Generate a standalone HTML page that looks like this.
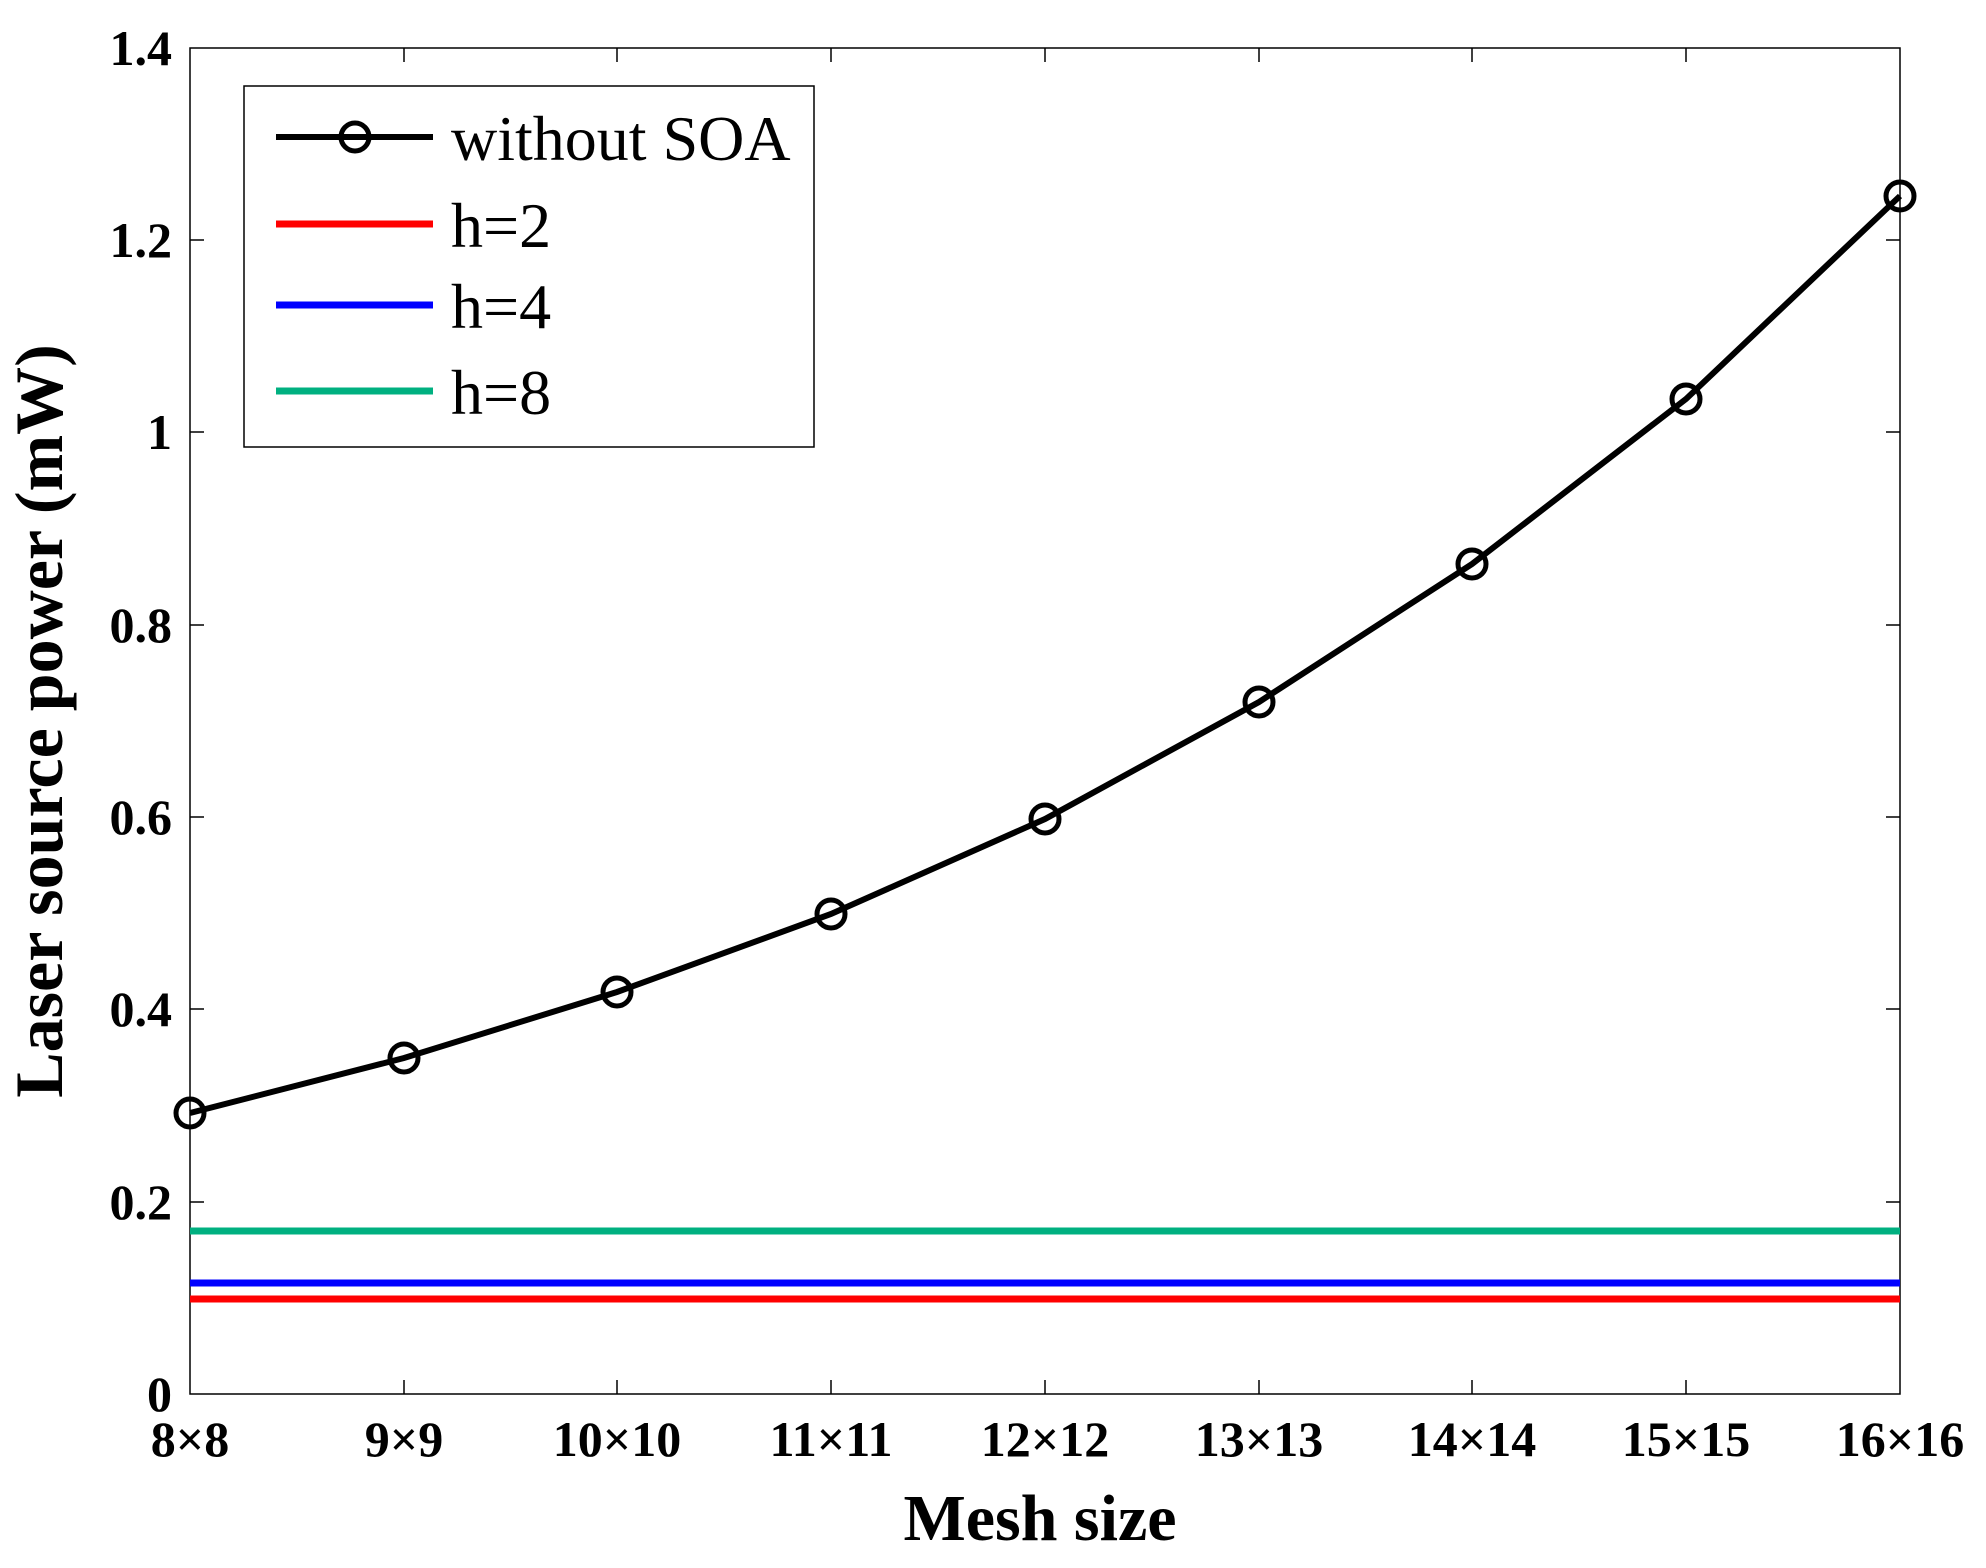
<!DOCTYPE html>
<html><head><style>body{margin:0;background:#fff}</style></head><body>
<svg width="1986" height="1563" xmlns="http://www.w3.org/2000/svg" font-family="Liberation Serif, serif">
<rect width="1986" height="1563" fill="#fff"/>
<g stroke="#000" stroke-width="1.5">
<rect x="190" y="48" width="1710" height="1346" fill="none"/>
<line x1="404" y1="1394" x2="404" y2="1380"/><line x1="617" y1="1394" x2="617" y2="1380"/><line x1="831" y1="1394" x2="831" y2="1380"/><line x1="1045" y1="1394" x2="1045" y2="1380"/><line x1="1259" y1="1394" x2="1259" y2="1380"/><line x1="1472" y1="1394" x2="1472" y2="1380"/><line x1="1686" y1="1394" x2="1686" y2="1380"/>
<line x1="404" y1="48" x2="404" y2="62"/><line x1="617" y1="48" x2="617" y2="62"/><line x1="831" y1="48" x2="831" y2="62"/><line x1="1045" y1="48" x2="1045" y2="62"/><line x1="1259" y1="48" x2="1259" y2="62"/><line x1="1472" y1="48" x2="1472" y2="62"/><line x1="1686" y1="48" x2="1686" y2="62"/>
<line x1="190" y1="1202" x2="204" y2="1202"/><line x1="190" y1="1009" x2="204" y2="1009"/><line x1="190" y1="817" x2="204" y2="817"/><line x1="190" y1="625" x2="204" y2="625"/><line x1="190" y1="432" x2="204" y2="432"/><line x1="190" y1="240" x2="204" y2="240"/>
<line x1="1900" y1="1202" x2="1886" y2="1202"/><line x1="1900" y1="1009" x2="1886" y2="1009"/><line x1="1900" y1="817" x2="1886" y2="817"/><line x1="1900" y1="625" x2="1886" y2="625"/><line x1="1900" y1="432" x2="1886" y2="432"/><line x1="1900" y1="240" x2="1886" y2="240"/>
</g>
<line x1="190" y1="1231" x2="1900" y2="1231" stroke="#00b080" stroke-width="7"/>
<line x1="190" y1="1283" x2="1900" y2="1283" stroke="#0000ff" stroke-width="7"/>
<line x1="190" y1="1299" x2="1900" y2="1299" stroke="#ff0000" stroke-width="7"/>
<polyline fill="none" stroke="#000" stroke-width="6" points="190,1113 404,1058 617,992 831,914 1045,819 1259,702 1472,564 1686,399 1900,196"/>
<g fill="none" stroke="#000" stroke-width="5">
<circle cx="190" cy="1113" r="14"/><circle cx="404" cy="1058" r="14"/><circle cx="617" cy="992" r="14"/><circle cx="831" cy="914" r="14"/><circle cx="1045" cy="819" r="14"/><circle cx="1259" cy="702" r="14"/><circle cx="1472" cy="564" r="14"/><circle cx="1686" cy="399" r="14"/><circle cx="1900" cy="196" r="14"/>
</g>
<g font-size="50" font-weight="bold" text-anchor="middle">
<text x="190" y="1456">8×8</text><text x="404" y="1456">9×9</text><text x="617" y="1456">10×10</text><text x="831" y="1456">11×11</text><text x="1045" y="1456">12×12</text><text x="1259" y="1456">13×13</text><text x="1472" y="1456">14×14</text><text x="1686" y="1456">15×15</text><text x="1900" y="1456">16×16</text>
</g>
<g font-size="50" font-weight="bold" text-anchor="end">
<text x="172" y="1411">0</text><text x="172" y="1219">0.2</text><text x="172" y="1026">0.4</text><text x="172" y="834">0.6</text><text x="172" y="642">0.8</text><text x="172" y="449">1</text><text x="172" y="257">1.2</text><text x="172" y="65">1.4</text>
</g>
<text x="1040" y="1540" font-size="66" font-weight="bold" text-anchor="middle">Mesh size</text>
<text transform="translate(62,721) rotate(-90)" font-size="68" font-weight="bold" text-anchor="middle">Laser source power (mW)</text>
<rect x="244" y="86" width="570" height="361" fill="#fff" stroke="#000" stroke-width="1.5"/>
<line x1="276" y1="137" x2="433" y2="137" stroke="#000" stroke-width="6"/>
<circle cx="355" cy="137" r="14" fill="none" stroke="#000" stroke-width="5"/>
<line x1="276" y1="224" x2="433" y2="224" stroke="#ff0000" stroke-width="7"/>
<line x1="276" y1="305" x2="433" y2="305" stroke="#0000ff" stroke-width="7"/>
<line x1="276" y1="391" x2="433" y2="391" stroke="#00b080" stroke-width="7"/>
<g font-size="64">
<text x="451" y="160">without SOA</text><text x="451" y="247">h=2</text><text x="451" y="328">h=4</text><text x="451" y="414">h=8</text>
</g>
</svg>
</body></html>
